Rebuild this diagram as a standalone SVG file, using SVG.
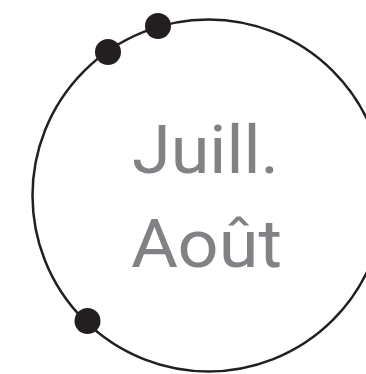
<svg xmlns="http://www.w3.org/2000/svg" width="366" height="374" viewBox="0 0 366 374">
<style>
.ring{fill:none;stroke:#231f20;stroke-width:2.5}
.dot{fill:#231f20}
.lbl{font-family:Roboto,"Open Sans",sans-serif;font-size:67px;fill:#808285}
</style>
<rect width="366" height="374" fill="#fff"/>
<g id="ring"><circle class="ring" cx="208.5" cy="195.5" r="176"/></g>
<g id="dots">
<circle class="dot" cx="158" cy="26" r="13"/>
<circle class="dot" cx="108" cy="52" r="13"/>
<circle class="dot" cx="87.5" cy="321" r="13"/>
</g>
<g id="label">
<text class="lbl" x="132" y="173" textLength="147" lengthAdjust="spacingAndGlyphs">Juill.</text>
<text class="lbl" x="131" y="267" textLength="151" lengthAdjust="spacingAndGlyphs">Août</text>
</g>
</svg>
